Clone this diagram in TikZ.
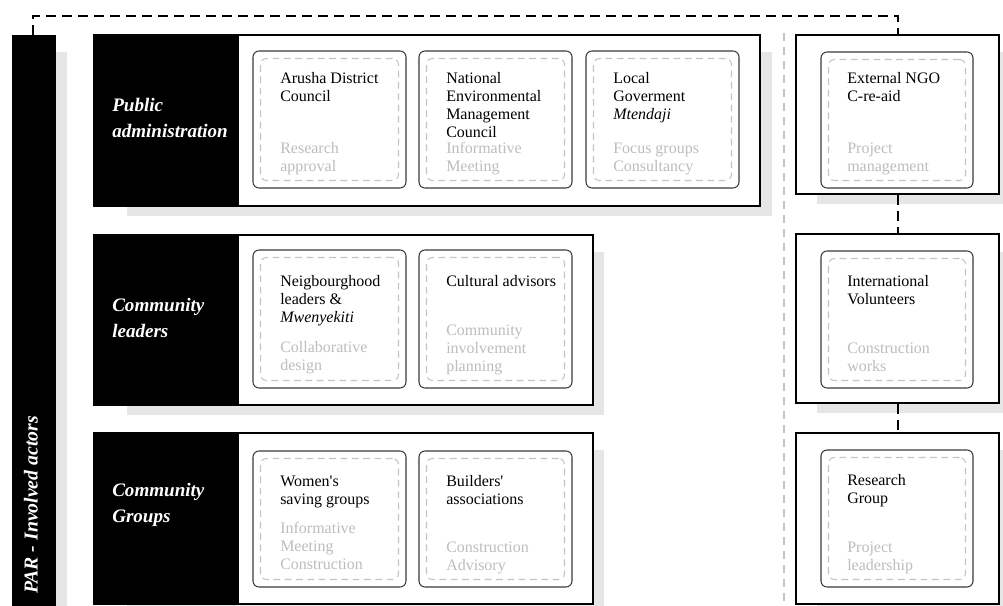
\documentclass[tikz,border=0pt]{standalone}
\usepackage{fontspec}
\setmainfont{Liberation Serif}
\usetikzlibrary{fit}
\definecolor{shadowgray}{HTML}{E6E6E6}
\definecolor{dashgray}{HTML}{C4C4C4}
\definecolor{txtgray}{HTML}{BDBDBD}
\definecolor{boxgray}{HTML}{3A3A3A}
\tikzset{
  outerbox/.style={draw=black, line width=1.5pt, fill=white, inner sep=0pt},
  titlebox/.style={fill=black, inner sep=0pt},
  shadowbox/.style={fill=shadowgray, inner sep=0pt},
  actorbox/.style={draw=boxgray, line width=0.8pt, rounded corners=4.5pt, inner sep=0pt},
  rolebox/.style={draw=dashgray, line width=0.8pt, dash pattern=on 5pt off 3.5pt, rounded corners=4.5pt, inner sep=0pt},
  actortext/.style={anchor=north west, inner sep=0pt, align=left, font=\fontsize{12}{13.5}\selectfont},
  roletext/.style={actortext, text=txtgray},
  titletext/.style={anchor=west, inner sep=0pt, align=left, text=white, font=\fontsize{14.3}{19.5}\selectfont\bfseries\itshape},
  linkline/.style={line width=1.5pt, dash pattern=on 7.5pt off 4.5pt},
  divider/.style={draw=dashgray, line width=1.5pt, dash pattern=on 6pt off 4.5pt},
}
\begin{document}
\begin{tikzpicture}[x=0.75pt, y=-0.75pt]
\useasboundingbox (0,0) rectangle (1003,606);
\clip (0,0) rectangle (1003,606);
% shadows
\node[shadowbox, fit={(56,52) (67,620)}] (barsh) {};
\node[shadowbox, fit={(127,52) (772,216)}] (r1sh) {};
\node[shadowbox, fit={(127,252) (604,415)}] (r2sh) {};
\node[shadowbox, fit={(127,450) (604,620)}] (r3sh) {};
\node[shadowbox, fit={(817,52) (1010,204)}] (ngosh) {};
\node[shadowbox, fit={(817,252) (1010,413)}] (volsh) {};
\node[shadowbox, fit={(817,450) (1010,620)}] (ressh) {};
% left bar
\node[titlebox, fit={(12,35) (56,620)}] (bar) {};
\coordinate (bartop) at (33,35);
\node[rotate=90, inner sep=0pt, text=white, font=\fontsize{14.8}{18}\selectfont\bfseries\itshape] (bartxt) at (31,505) {PAR - Involved actors};
% divider
\draw[divider] (784,33) -- (784,606);
% rows
\node[outerbox, fit={(94,35) (760,206)}] (r1) {};
\node[titlebox, fit={(94,35) (239,206)}] (r1t) {};
\node[titletext] (r1txt) at (112,118) {Public\\administration};
\node[outerbox, fit={(94,235) (593,405)}] (r2) {};
\node[titlebox, fit={(94,235) (239,405)}] (r2t) {};
\node[titletext] (r2txt) at (112,318) {Community\\leaders};
\node[outerbox, fit={(94,433) (593,604)}] (r3) {};
\node[titlebox, fit={(94,433) (239,604)}] (r3t) {};
\node[titletext] (r3txt) at (112,505) {Community\\Groups};
% right boxes
\node[outerbox, fit={(796,35) (999,194)}] (ngo) {};
\node[outerbox, fit={(796,234) (999,403)}] (vol) {};
\node[outerbox, fit={(796,433) (999,604)}] (res) {};
% inner boxes row 1
\node[actorbox, fit={(253,51) (406,188)}] (b11) {};
\node[rolebox, fit={(260.5,58.5) (398.5,180.5)}] (d11) {};
\node[actorbox, fit={(419,51) (572,188)}] (b12) {};
\node[rolebox, fit={(426.5,58.5) (564.5,180.5)}] (d12) {};
\node[actorbox, fit={(586,51) (739,188)}] (b13) {};
\node[rolebox, fit={(593.5,58.5) (731.5,180.5)}] (d13) {};
% row 2
\node[actorbox, fit={(253,250) (406,388)}] (b21) {};
\node[rolebox, fit={(260.5,257.5) (398.5,380.5)}] (d21) {};
\node[actorbox, fit={(419,250) (572,388)}] (b22) {};
\node[rolebox, fit={(426.5,257.5) (564.5,380.5)}] (d22) {};
% row 3
\node[actorbox, fit={(253,451) (406,587)}] (b31) {};
\node[rolebox, fit={(260.5,458.5) (398.5,579.5)}] (d31) {};
\node[actorbox, fit={(419,451) (572,587)}] (b32) {};
\node[rolebox, fit={(426.5,458.5) (564.5,579.5)}] (d32) {};
% right inner
\node[actorbox, fit={(821,52) (973,188)}] (bn) {};
\node[rolebox, fit={(828.5,59.5) (965.5,180.5)}] (dn) {};
\node[actorbox, fit={(821,251) (973,388)}] (bv) {};
\node[rolebox, fit={(828.5,258.5) (965.5,380.5)}] (dv) {};
\node[actorbox, fit={(821,450) (973,587)}] (br) {};
\node[rolebox, fit={(828.5,457.5) (965.5,579.5)}] (dr) {};
% texts row 1
\node[actortext] (t11) at (280,70.4) {\strut Arusha District\\Council};
\node[roletext] (g11) at (280,140.4) {\strut Research\\approval};
\node[actortext] (t12) at (446,70.4) {\strut National\\Environmental\\Management\\Council};
\node[roletext] (g12) at (446,140.4) {\strut Informative\\Meeting};
\node[actortext] (t13) at (613,70.4) {\strut Local\\Goverment\\\textit{Mtendaji}};
\node[roletext] (g13) at (613,140.4) {\strut Focus groups\\Consultancy};
% texts row 2
\node[actortext] (t21) at (280,273.4) {\strut Neigbourghood\\leaders \&\\\textit{Mwenyekiti}};
\node[roletext] (g21) at (280,339.4) {\strut Collaborative\\design};
\node[actortext] (t22) at (446,273.4) {\strut Cultural advisors};
\node[roletext] (g22) at (446,322.4) {\strut Community\\involvement\\planning};
% texts row 3
\node[actortext] (t31) at (280,473.4) {\strut Women\textquotesingle s\\saving groups};
\node[roletext] (g31) at (280,520.4) {\strut Informative\\Meeting\\Construction};
\node[actortext] (t32) at (446,473.4) {\strut Builders\textquotesingle\\associations};
\node[roletext] (g32) at (446,539.4) {\strut Construction\\Advisory};
% right texts
\node[actortext] (tn) at (847,70.4) {\strut External NGO\\C-re-aid};
\node[roletext] (gn) at (847,140.4) {\strut Project\\management};
\node[actortext] (tv) at (847,273.4) {\strut International\\Volunteers};
\node[roletext] (gv) at (847,340.4) {\strut Construction\\works};
\node[actortext] (tr) at (847,472.4) {\strut Research\\Group};
\node[roletext] (gr) at (847,539.4) {\strut Project\\leadership};
% connectors
\draw[linkline] (bartop) -- ++(0,-19) -| (ngo.north);
\draw[linkline] (ngo.south) -- (vol.north);
\draw[linkline] (vol.south) -- (res.north);
\end{tikzpicture}
\end{document}
